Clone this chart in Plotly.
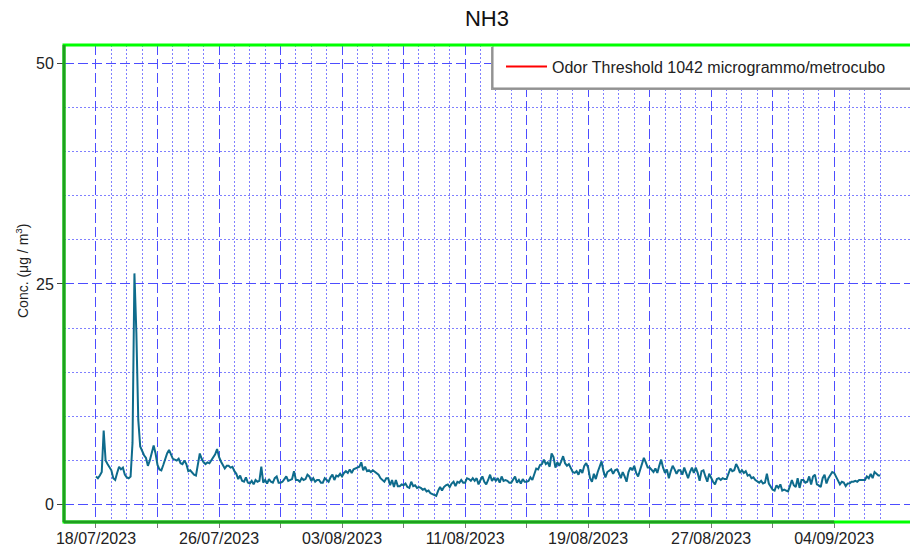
import pandas as pd
import plotly.graph_objects as go

# NH3 concentration (µg/m3), 3-hourly samples
jul_vals = [
    3.2, 3.0, 3.3, 3.7, 8.4, 5.0, 4.6, 4.3,   # 18/07
    3.9, 3.0, 2.8, 3.6, 4.3, 4.0, 4.2, 3.4,   # 19/07
    3.1, 3.0, 3.2, 7.0, 26.2, 19.5, 9.6, 6.6, # 20/07
    6.0, 5.6, 5.3, 4.4, 5.0, 5.9, 6.7, 5.8,   # 21/07
    4.5, 4.0, 3.9, 4.5, 5.2, 5.8, 6.2, 5.6,   # 22/07
    5.2, 5.1, 5.0, 5.2, 4.7, 4.6, 5.0, 4.6,   # 23/07
    3.8, 3.9, 3.6, 3.4, 3.3, 4.4, 5.8, 5.2,   # 24/07
    4.8, 4.6, 4.8, 4.7, 5.0, 5.4, 5.7, 6.3,   # 25/07
    5.4, 4.9, 4.5, 4.1, 4.4, 4.4, 4.2, 4.3,   # 26/07
    3.8, 3.5, 2.9, 3.3, 2.7, 2.6, 3.1, 2.5,   # 27/07
    2.4, 2.7, 2.3, 2.8, 2.6, 2.7, 4.3, 2.5,   # 28/07
    2.8, 2.4, 2.9, 2.6, 2.5, 3.0, 3.2, 2.5,   # 29/07
    2.5, 2.6, 2.9, 3.2, 2.7, 2.8, 2.9, 3.8,   # 30/07
    2.8, 2.8, 2.6, 3.0, 2.8, 2.9, 3.4, 3.2,   # 31/07
]
aug_vals = [
    2.7, 3.0, 2.6, 2.8, 2.8, 2.5, 2.5, 3.0,   # 01/08
    2.8, 2.6, 3.1, 3.4, 2.8, 3.3, 3.2, 3.5,   # 02/08
    3.2, 3.6, 3.8, 3.6, 4.0, 3.6, 4.0, 4.1,   # 03/08
    4.2, 4.3, 4.8, 3.9, 4.3, 3.8, 3.9, 3.7,   # 04/08
    3.9, 3.7, 3.6, 3.4, 3.0, 2.8, 2.6, 3.0,   # 05/08
    3.0, 2.2, 2.8, 2.0, 2.8, 2.1, 2.1, 2.3,   # 06/08
    2.2, 2.4, 2.0, 1.9, 2.6, 2.1, 2.2, 1.9,   # 07/08
    2.0, 1.9, 1.7, 1.8, 1.5, 1.6, 1.3, 1.2,   # 08/08
    1.1, 1.0, 1.6, 2.0, 1.6, 2.0, 2.2, 2.3,   # 09/08
    2.0, 2.4, 2.6, 2.1, 2.6, 2.5, 2.8, 2.5,   # 10/08
    2.5, 3.0, 2.9, 2.7, 3.0, 2.7, 3.0, 2.3,   # 11/08
    2.8, 3.2, 2.6, 2.3, 2.8, 3.4, 2.7, 3.0,   # 12/08
    2.7, 3.0, 2.5, 3.2, 2.7, 2.8, 2.7, 2.5,   # 13/08
    2.5, 2.9, 3.2, 2.5, 2.8, 2.4, 2.9, 2.6,   # 14/08
    2.6, 2.7, 3.1, 2.8, 3.6, 4.1, 4.0, 4.5,   # 15/08
    4.6, 5.1, 4.6, 4.8, 4.3, 5.8, 5.4, 4.2,   # 16/08
    4.8, 4.4, 4.9, 5.5, 4.7, 4.4, 4.6, 4.1,   # 17/08
    3.7, 3.6, 3.8, 3.4, 4.0, 3.6, 4.4, 4.7,   # 18/08
    4.2, 3.0, 2.6, 3.5, 2.9, 3.7, 4.4, 4.9,   # 19/08
    3.8, 3.1, 3.7, 3.9, 4.0, 3.5, 3.9, 4.0,   # 20/08
    3.6, 3.0, 3.7, 3.2, 2.6, 3.7, 4.2, 3.9,   # 21/08
    4.4, 3.6, 3.2, 3.9, 4.5, 5.3, 4.8, 4.2,   # 22/08
    4.2, 3.9, 3.7, 4.1, 3.6, 4.4, 5.1, 4.2,   # 23/08
    3.6, 4.0, 3.0, 3.8, 4.4, 4.0, 3.5, 3.9,   # 24/08
    3.9, 3.4, 4.2, 3.6, 3.0, 3.7, 4.2, 3.6,   # 25/08
    4.2, 3.6, 2.7, 3.8, 3.9, 3.2, 2.6, 3.5,   # 26/08
    3.0, 2.6, 2.3, 2.9, 3.0, 2.8, 3.0, 2.9,   # 27/08
    2.9, 3.6, 4.1, 3.8, 3.9, 4.6, 4.2, 3.6,   # 28/08
    3.9, 3.6, 3.8, 3.3, 3.4, 3.0, 3.1, 2.8,   # 29/08
    2.6, 2.5, 2.7, 2.4, 2.5, 3.5, 2.4, 2.0,   # 30/08
    1.7, 1.6, 2.2, 1.9, 2.3, 1.6, 1.7, 1.6,   # 31/08
]
sep_vals = [
    1.5, 2.1, 2.8, 2.2, 2.0, 3.0, 1.9, 2.8,   # 01/09
    2.8, 2.5, 2.6, 3.2, 2.3, 3.2, 3.4, 2.3,   # 02/09
    2.2, 2.0, 3.0, 3.4, 2.4, 3.0, 3.3, 3.7,   # 03/09
    3.6, 3.2, 2.8, 2.3, 2.6, 2.5, 2.1, 2.4,   # 04/09
    2.4, 2.6, 2.6, 2.7, 2.6, 2.8, 2.8, 2.8,   # 05/09
    2.8, 3.2, 3.0, 3.5, 3.0, 3.7, 3.5, 3.3,   # 06/09
    3.3,                                       # 07/09 00:00
]
start_time = "2023-07-18 00:00"
threshold_value = 1042
threshold_name = "Odor Threshold 1042 microgrammo/metrocubo"
chart_title = "NH3"
y_title = "Conc. (μg / m<sup>3</sup>)"

major_tick_dates = ["2023-07-18", "2023-07-22", "2023-07-26", "2023-07-30",
                    "2023-08-03", "2023-08-07", "2023-08-11", "2023-08-15",
                    "2023-08-19", "2023-08-23", "2023-08-27", "2023-08-31",
                    "2023-09-04"]
major_tick_text = ["18/07/2023", "", "26/07/2023", "", "03/08/2023", "",
                   "11/08/2023", "", "19/08/2023", "", "27/08/2023", "",
                   "04/09/2023"]
day_dates = pd.date_range("2023-07-18", "2023-09-07", freq="D")
minor_tick_dates = [d for d in day_dates
                    if d not in set(pd.to_datetime(major_tick_dates))]
y_major = [0, 25, 50]
y_minor = [5, 10, 15, 20, 30, 35, 40, 45]

values = jul_vals + aug_vals + sep_vals
times = pd.date_range(start_time, periods=len(values), freq="3h")

FONT = "Liberation Sans, Arial, sans-serif"
PLOT_L, PLOT_R, PLOT_T, PLOT_B = 64, 910, 45, 522
PW, PH = PLOT_R - PLOT_L, PLOT_B - PLOT_T


def px_x(px):
    return (px - PLOT_L) / PW


def px_y(py):
    return (PLOT_B - py) / PH


fig = go.Figure()
fig.add_trace(go.Scatter(
    x=times, y=values, mode="lines",
    line=dict(color="#0e6b8c", width=2),
    showlegend=False, name="NH3"))
fig.add_trace(go.Scatter(
    x=[times[0], times[-1]], y=[threshold_value, threshold_value],
    mode="lines", line=dict(color="#ff0000", width=2),
    name=threshold_name))

grid_major = "#4d4dff"
grid_minor = "#8080ff"

fig.update_layout(
    template="none",
    width=910, height=550,
    margin=dict(l=PLOT_L, r=0, t=PLOT_T, b=550 - PLOT_B, pad=0),
    paper_bgcolor="white", plot_bgcolor="white",
    font=dict(family=FONT, size=16, color="#222"),
    title=dict(text=chart_title, x=0.5, xref="paper", xanchor="center",
               y=0.967, yref="container", yanchor="middle",
               font=dict(size=22, color="#111")),
    xaxis=dict(
        range=["2023-07-15 22:05", "2023-09-08 22:20"],
        tickmode="array", tickvals=major_tick_dates, ticktext=major_tick_text,
        ticks="outside", ticklen=5, tickcolor="#777", tickwidth=1,
        ticklabelstandoff=-3,
        showgrid=True, gridcolor=grid_major, gridwidth=1, griddash="10px,4px",
        zeroline=False, showline=False, automargin=False,
        tickfont=dict(size=16, color="#222"),
        minor=dict(tickmode="array", tickvals=minor_tick_dates,
                   showgrid=True, gridcolor=grid_minor, gridwidth=1,
                   griddash="2px,2px", ticks=""),
    ),
    yaxis=dict(
        range=[-1.96, 52.07],
        tickmode="array", tickvals=y_major,
        ticks="outside", ticklen=6, tickcolor="#444", tickwidth=1,
        showgrid=True, gridcolor=grid_major, gridwidth=1, griddash="10px,4px",
        zeroline=False, showline=False, automargin=False,
        tickfont=dict(size=16, color="#222"),
        minor=dict(tickmode="array", tickvals=y_minor,
                   showgrid=True, gridcolor=grid_minor, gridwidth=1,
                   griddash="2px,2px", ticks=""),
    ),
    legend=dict(
        x=px_x(501), xanchor="left", y=px_y(66.5), yanchor="middle",
        bgcolor="rgba(0,0,0,0)", borderwidth=0, itemwidth=41,
        font=dict(size=16, color="#222"),
    ),
    annotations=[
        dict(text=y_title, textangle=-90, xref="paper", yref="paper",
             x=px_x(22), y=px_y(271), xanchor="center", yanchor="middle",
             showarrow=False, font=dict(size=14, color="#222")),
    ],
    shapes=[
        # legend box with shadow
        dict(type="rect", xref="paper", yref="paper",
             x0=px_x(491), x1=1.03, y0=px_y(90), y1=px_y(47),
             line=dict(width=0), fillcolor="#9a9a9a", layer="above"),
        dict(type="rect", xref="paper", yref="paper",
             x0=px_x(493), x1=1.03, y0=px_y(88), y1=1.0,
             line=dict(color="#8a8a8a", width=1), fillcolor="white",
             layer="above"),
        # green frame
        dict(type="rect", xref="paper", yref="paper", x0=0, x1=1.01, y0=0, y1=1,
             line=dict(color="#00ff00", width=3), layer="above"),
        dict(type="line", xref="paper", yref="paper", x0=0, x1=0, y0=0, y1=1,
             line=dict(color="#1f9f1f", width=3), layer="above"),
        dict(type="line", xref="x", yref="paper", x0="2023-07-15 22:05",
             x1=major_tick_dates[-1], y0=0, y1=0,
             line=dict(color="#1f9f1f", width=3), layer="above"),
    ],
)

fig.write_html("out.html", config={"displayModeBar": False},
               post_script="document.body.style.margin='0px';")
